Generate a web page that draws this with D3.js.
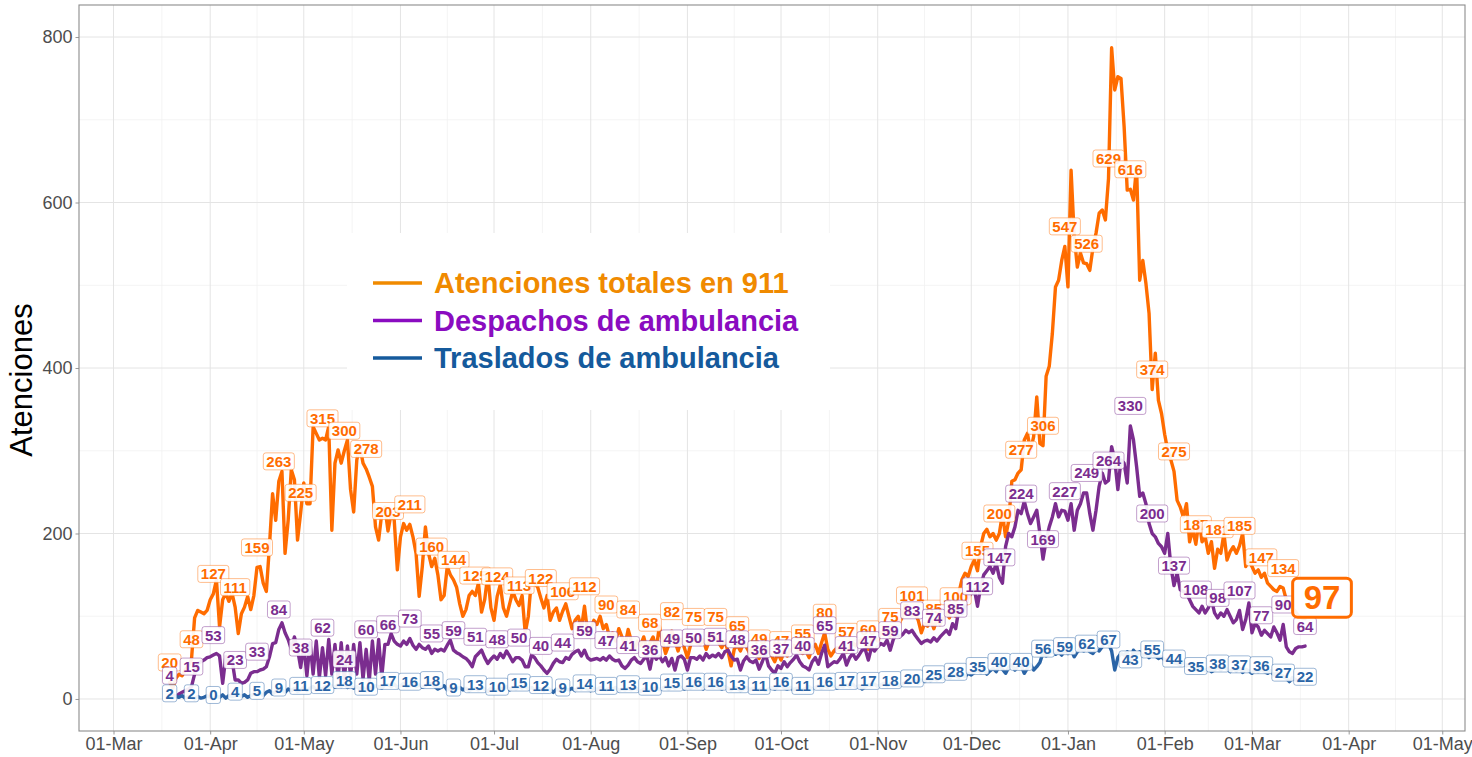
<!DOCTYPE html>
<html><head><meta charset="utf-8">
<script src="https://cdn.jsdelivr.net/npm/d3@7/dist/d3.min.js"></script>
<style>
body{margin:0;background:#fff}
svg{display:block;font-family:"Liberation Sans",Arial,Helvetica,sans-serif}
</style>
</head><body>
<svg id="chart" width="1472" height="757"></svg>
<script>
// ---- data (daily, starting at startDate) ----
const startDate = "2020-03-19";
const atenciones = [
20,13,25,30,28,35,40, 48,98,107,105,103,107,120, 127,144,87,120,128,118,128, 111,79,103,111,124,108,125,
159,160,140,130,185,248,216, 263,275,176,216,277,265,192, 225,261,236,236,329,321,313, 315,313,329,204,285,301,285,
300,313,253,226,289,305,285, 278,268,257,208,192,224,232, 203,224,216,156,196,212,204, 211,196,176,124,160,208,176,
160,170,150,120,125,160,150, 144,135,115,100,108,125,130, 125,140,105,120,150,110,95, 124,138,110,100,115,130,120,
113,125,80,100,145,140,135, 122,110,125,95,105,110,95, 106,115,100,85,95,100,85, 112,80,85,95,90,100,85,
90,75,80,70,85,75,65, 84,70,60,70,65,75,60, 68,75,60,88,70,55,65, 82,70,58,72,62,50,65,
75,68,66,72,60,70,78, 75,68,62,70,58,40,60, 65,58,68,62,55,64,56, 49,60,66,58,52,45,55,
47,58,52,60,65,62,57, 55,58,50,62,66,55,68, 80,60,52,58,62,60,66, 57,62,68,64,70,72,66,
60,72,75,70,80,78,88, 75,90,95,92,100,116,105, 101,103,95,80,91,88,96, 85,96,90,100,104,98,115,
100,128,144,152,148,160,168, 155,184,200,205,196,200,192, 200,224,196,215,263,265,273, 277,313,321,300,317,365,309,
306,390,402,442,498,506,530, 547,498,639,560,522,539,527, 526,518,545,563,587,591,579, 629,787,736,752,750,692,615,
616,603,643,506,530,502,466, 374,418,361,345,320,300,289, 275,240,232,220,236,190,205, 187,216,190,196,176,190,158,
181,176,200,168,178,184,176, 185,200,160,168,160,152,156, 147,152,140,136,132,130,136, 134,120,115,110,105,100,98,
97];
const despachos = [
4,5,3,6,8,10,12, 15,30,43,45,47,50,51, 53,55,52,19,51,45,47, 23,23,19,20,23,31,33,
33,35,36,39,51,67,68, 84,92,80,72,60,75,60, 38,65,28,68,30,70,26, 62,28,72,30,66,25,68,
24,64,28,66,30,68,24, 60,22,70,30,72,26,66, 66,79,70,66,64,70,66, 73,65,60,66,62,60,64,
55,60,58,60,58,65,71, 59,56,54,51,49,45,39, 51,55,59,50,43,48,52, 48,55,50,58,52,45,50,
50,47,39,39,53,50,44, 40,35,31,36,43,48,45, 44,50,48,54,57,59,52, 59,50,47,48,49,47,50,
47,52,48,46,47,40,37, 41,47,50,45,43,48,52, 36,55,48,52,45,50,40, 49,35,50,52,48,35,50,
50,48,52,47,55,50,53, 51,55,50,57,59,52,47, 48,35,46,51,46,44,47, 36,45,55,40,35,31,40,
37,45,39,44,48,53,45, 40,38,35,45,50,42,55, 65,39,42,45,44,49,55, 41,50,55,48,53,59,60,
47,62,58,63,67,65,71, 59,72,79,75,78,83,80, 83,77,72,67,70,71,69, 74,70,75,79,83,78,91,
85,108,103,112,122,128,132, 112,136,150,155,160,152,164, 147,140,184,200,196,208,228, 224,239,224,212,220,228,200,
169,192,208,220,236,220,228, 227,216,236,204,228,236,249, 249,224,204,228,257,273,261, 264,305,289,253,289,285,261,
330,313,281,245,249,236,212, 200,196,188,184,176,200,160, 137,152,132,130,128,120,112, 108,104,112,104,110,120,104,
98,104,100,108,100,92,96, 107,84,96,116,80,91,87, 77,83,79,75,87,80,71, 90,63,57,55,61,63,63,
64];
const traslados = [
2,1,3,2,4,1,3, 2,0,3,1,2,4,2, 0,3,2,5,1,4,3, 4,6,3,5,2,4,6,
5,7,4,8,10,6,9, 9,11,8,12,10,13,9, 11,14,10,13,15,11,12, 12,15,13,16,14,17,15,
18,14,16,13,15,12,14, 10,14,12,16,15,13,17, 17,15,18,14,16,19,15, 16,18,15,17,14,16,19,
18,15,12,14,16,11,13, 9,12,14,11,13,10,12, 13,11,14,12,9,13,11, 10,13,12,15,11,14,12,
15,13,16,12,14,11,13, 12,10,14,11,8,12,10, 9,12,11,13,10,14,12, 14,12,10,13,11,14,12,
11,13,12,14,10,12,11, 13,11,14,12,9,12,11, 10,12,14,11,13,15,12, 15,13,16,14,12,15,13,
16,14,17,12,15,16,14, 16,14,12,15,13,11,14, 13,10,12,14,11,13,12, 11,13,10,12,14,12,15,
16,13,12,14,11,13,12, 11,13,15,12,14,16,13, 16,14,17,15,13,16,15, 17,15,18,14,16,12,15,
17,16,18,15,17,19,16, 18,17,19,16,18,20,19, 20,22,19,23,21,24,22, 25,23,26,24,27,25,28,
28,26,30,27,31,29,32, 35,32,36,30,34,37,33, 40,36,31,38,41,35,39, 40,31,37,42,35,39,44,
56,52,55,58,54,57,53, 59,55,60,51,57,61,58, 62,57,55,60,58,63,71, 67,58,35,50,55,53,57,
43,59,54,57,52,55,50, 55,52,49,51,47,48,45, 44,43,41,45,40,42,37, 35,38,36,34,37,33,35,
38,35,39,36,33,37,34, 37,32,36,34,31,35,33, 36,33,31,34,29,32,30, 27,25,21,26,23,21,24,
22];
const seriesNames = ["Atenciones totales en 911", "Despachos de ambulancia", "Traslados de ambulancia"];
const yTicks = [0, 200, 400, 600, 800];
const yMinorTicks = [100, 300, 500, 700];
const xTickStart = "2020-03-01", xTickEnd = "2021-05-01";
const labelEvery = 7;
const yAxisTitle = "Atenciones";

// ---- styles ----
const lineColors = ["#ff6c00", "#7b2d8f", "#2a64a6"];
const legendColors = ["#f08a00", "#8a0cc0", "#155a9c"];
const labelNudge = [20, 20, 4];

const panel = {l: 79, r: 1465, t: 5, b: 731};
const svg = d3.select("#chart");
const parse = d3.utcParse("%Y-%m-%d");
const d0 = parse(startDate);
const dates = atenciones.map((_, i) => d3.utcDay.offset(d0, i));

const x = d3.scaleUtc()
  .domain([new Date(Date.UTC(2020,1,18,22,30)), new Date(Date.UTC(2021,4,8,7))])
  .range([panel.l, panel.r]);
const y = d3.scaleLinear().domain([-38.7, 838.7]).range([panel.b, panel.t]);

// grid
const majorX = d3.utcMonth.range(parse(xTickStart), d3.utcDay.offset(parse(xTickEnd), 1));
const minorX = [];
for (let i = 0; i < majorX.length - 1; i++) minorX.push(new Date((+majorX[i] + +majorX[i+1]) / 2));
const grid = svg.append("g");
grid.selectAll(".mx").data(minorX).join("line")
  .attr("x1", d => x(d)).attr("x2", d => x(d)).attr("y1", panel.t).attr("y2", panel.b)
  .attr("stroke", "#f1f1f1").attr("stroke-width", 0.8);
grid.selectAll(".my").data(yMinorTicks).join("line")
  .attr("x1", panel.l).attr("x2", panel.r).attr("y1", d => y(d)).attr("y2", d => y(d))
  .attr("stroke", "#f1f1f1").attr("stroke-width", 0.8);
grid.selectAll(".Mx").data(majorX).join("line")
  .attr("x1", d => x(d)).attr("x2", d => x(d)).attr("y1", panel.t).attr("y2", panel.b)
  .attr("stroke", "#e4e4e4").attr("stroke-width", 1);
grid.selectAll(".My").data(yTicks).join("line")
  .attr("x1", panel.l).attr("x2", panel.r).attr("y1", d => y(d)).attr("y2", d => y(d))
  .attr("stroke", "#e4e4e4").attr("stroke-width", 1);

// axes
const xAxis = d3.axisBottom(x).tickValues(majorX).tickFormat(d3.utcFormat("%d-%b")).tickSize(3.5).tickPadding(3);
const gx = svg.append("g").attr("transform", `translate(0,${panel.b})`).call(xAxis);
const yAxis = d3.axisLeft(y).tickValues(yTicks).tickSize(3.5).tickPadding(3);
const gy = svg.append("g").attr("transform", `translate(${panel.l},0)`).call(yAxis);
[gx, gy].forEach(g => {
  g.select(".domain").remove();
  g.selectAll(".tick line").attr("stroke", "#9a9a9a");
  g.selectAll(".tick text").attr("fill", "#4d4d4d").style("font-size", "18px")
   .style("font-family", '"Liberation Sans",Arial,sans-serif');
});
gx.selectAll(".tick text").attr("dy", "0.68em");

// panel border
svg.append("rect").attr("x", panel.l).attr("y", panel.t)
  .attr("width", panel.r - panel.l).attr("height", panel.b - panel.t)
  .attr("fill", "none").attr("stroke", "#8c8c8c").attr("stroke-width", 1.1);

// y title
svg.append("text").attr("transform", `translate(32,380) rotate(-90)`)
  .attr("text-anchor", "middle").style("font-size", "31px").attr("fill", "#000").text(yAxisTitle);

// lines
const allSeries = [atenciones, despachos, traslados];
const line = d3.line().x((d, i) => x(dates[i])).y(d => y(d)).curve(d3.curveLinear);
const lg = svg.append("g");
allSeries.forEach((s, k) => {
  lg.append("path").datum(s).attr("d", line).attr("fill", "none")
    .attr("stroke", lineColors[k]).attr("stroke-width", 3.4)
    .attr("stroke-linejoin", "round").attr("stroke-linecap", "round");
});

// labels
const labG = svg.append("g");
function addLabel(g, cx, cy, txt, color, size, padX, boxH, sw, sop, rx) {
  const gg = g.append("g");
  const r = gg.append("rect");
  const t = gg.append("text").attr("x", cx).attr("y", cy).attr("text-anchor", "middle")
    .attr("dominant-baseline", "central").attr("fill", color)
    .style("font-size", size + "px").style("font-weight", "bold").text(txt);
  const w = t.node().getComputedTextLength();
  r.attr("x", cx - w/2 - padX).attr("y", cy - boxH/2).attr("width", w + 2*padX).attr("height", boxH)
    .attr("rx", rx).attr("fill", "#fff").attr("fill-opacity", 0.92)
    .attr("stroke", color).attr("stroke-opacity", sop).attr("stroke-width", sw);
}
allSeries.forEach((s, k) => {
  s.forEach((v, i) => {
    if (i % labelEvery !== 0) return;
    if (k === 0 && i === s.length - 1) return;
    addLabel(labG, x(dates[i]), y(v) - labelNudge[k], String(v), lineColors[k], 15, 3, 17, 1, 0.45, 2.5);
  });
});
// highlighted final value
const lastI = atenciones.length - 1;
addLabel(labG, x(dates[lastI]) + 17, y(atenciones[lastI]) - 21, String(atenciones[lastI]),
  lineColors[0], 33, 11, 39, 3, 1, 5);

// legend
const leg = svg.append("g");
leg.append("rect").attr("x", 347).attr("y", 233).attr("width", 483).attr("height", 177).attr("fill", "#fff");
seriesNames.forEach((n, k) => {
  const yy = 283 + k * 37.5;
  leg.append("line").attr("x1", 373).attr("x2", 422).attr("y1", yy).attr("y2", yy)
    .attr("stroke", legendColors[k]).attr("stroke-width", 3.5);
  leg.append("text").attr("x", 434).attr("y", yy).attr("dominant-baseline", "central")
    .attr("fill", legendColors[k]).style("font-size", "29px").style("font-weight", "bold").text(n);
});
</script>
</body></html>
